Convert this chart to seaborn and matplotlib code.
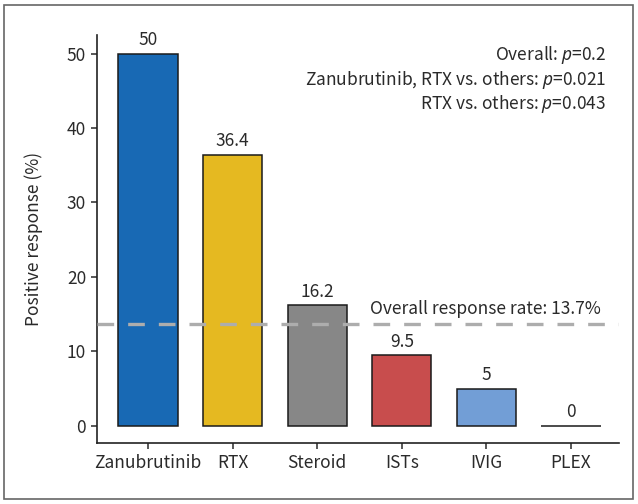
import matplotlib
matplotlib.use("Agg")
import matplotlib.pyplot as plt
import seaborn as sns
import pandas as pd
from matplotlib.patches import Rectangle

categories = ["Zanubrutinib", "RTX", "Steroid", "ISTs", "IVIG", "PLEX"]
values = [50, 36.4, 16.2, 9.5, 5, 0]
value_labels = ["50", "36.4", "16.2", "9.5", "5", "0"]
colors = ["#1869B4", "#E5B921", "#878787", "#C84D4D", "#729ED6", "#FFFFFF"]
overall_rate = 13.7
yticks = [0, 10, 20, 30, 40, 50]
pvalue_lines = [
    ("Overall: ", "0.2"),
    ("Zanubrutinib, RTX vs. others: ", "0.021"),
    ("RTX vs. others: ", "0.043"),
]

sns.set_theme(style="white")
plt.rcParams['font.family'] = ['Noto Sans CJK KR', 'DejaVu Sans']
plt.rcParams['mathtext.fontset'] = 'custom'
plt.rcParams['mathtext.it'] = 'Noto Sans:italic:light'
plt.rcParams['mathtext.rm'] = 'Noto Sans CJK KR'

TXT = "#2a2a2a"

df = pd.DataFrame({"treatment": categories, "rate": values})

fig = plt.figure(figsize=(6.38, 5.04), dpi=100)
ax = fig.add_axes([0.1525, 0.1204, 0.818, 0.8102])

sns.barplot(data=df, x="treatment", y="rate", hue="treatment",
            palette=colors, order=categories, hue_order=categories,
            legend=False, width=0.7, edgecolor="#1a1a1a", linewidth=1.1,
            saturation=1, ax=ax)

ax.axhline(overall_rate, color="#adadad", lw=2.4, dashes=(5, 4.2), zorder=5)
ax.text(2.62, overall_rate + 1.3, f"Overall response rate: {overall_rate}%",
        fontsize=12.5, color=TXT, ha="left", va="baseline", zorder=6)

for i, (v, lab) in enumerate(zip(values, value_labels)):
    ax.text(i, v + 0.6, lab, ha="center", va="bottom", fontsize=12.5,
            color=TXT)

ax.set_xlim(-0.6, 5.57)
ax.set_ylim(-2.35, 52.5)
ax.set_yticks(yticks)
ax.set_xlabel("")
ax.set_ylabel("Positive response (%)", fontsize=12.5, color=TXT, labelpad=17)
ax.tick_params(axis="both", labelsize=12.5, colors=TXT, length=4,
               width=1.1, direction="out", bottom=True, left=True, pad=4)
sns.despine(ax=ax)
for s in ["left", "bottom"]:
    ax.spines[s].set_color("#222222")
    ax.spines[s].set_linewidth(1.2)

# p-value annotations (right aligned)
ys = [0.891, 0.842, 0.794]
for (prefix, val), y in zip(pvalue_lines, ys):
    fig.text(0.950, y, prefix + r"$p$" + "=" + val, ha="right", va="center",
             fontsize=12.5, color=TXT)

fig.patches.append(Rectangle((0.007, 0.009), 0.985, 0.982, transform=fig.transFigure,
                             fill=False, edgecolor="#666666", lw=1.2))

fig.savefig("out.png", dpi=100)
